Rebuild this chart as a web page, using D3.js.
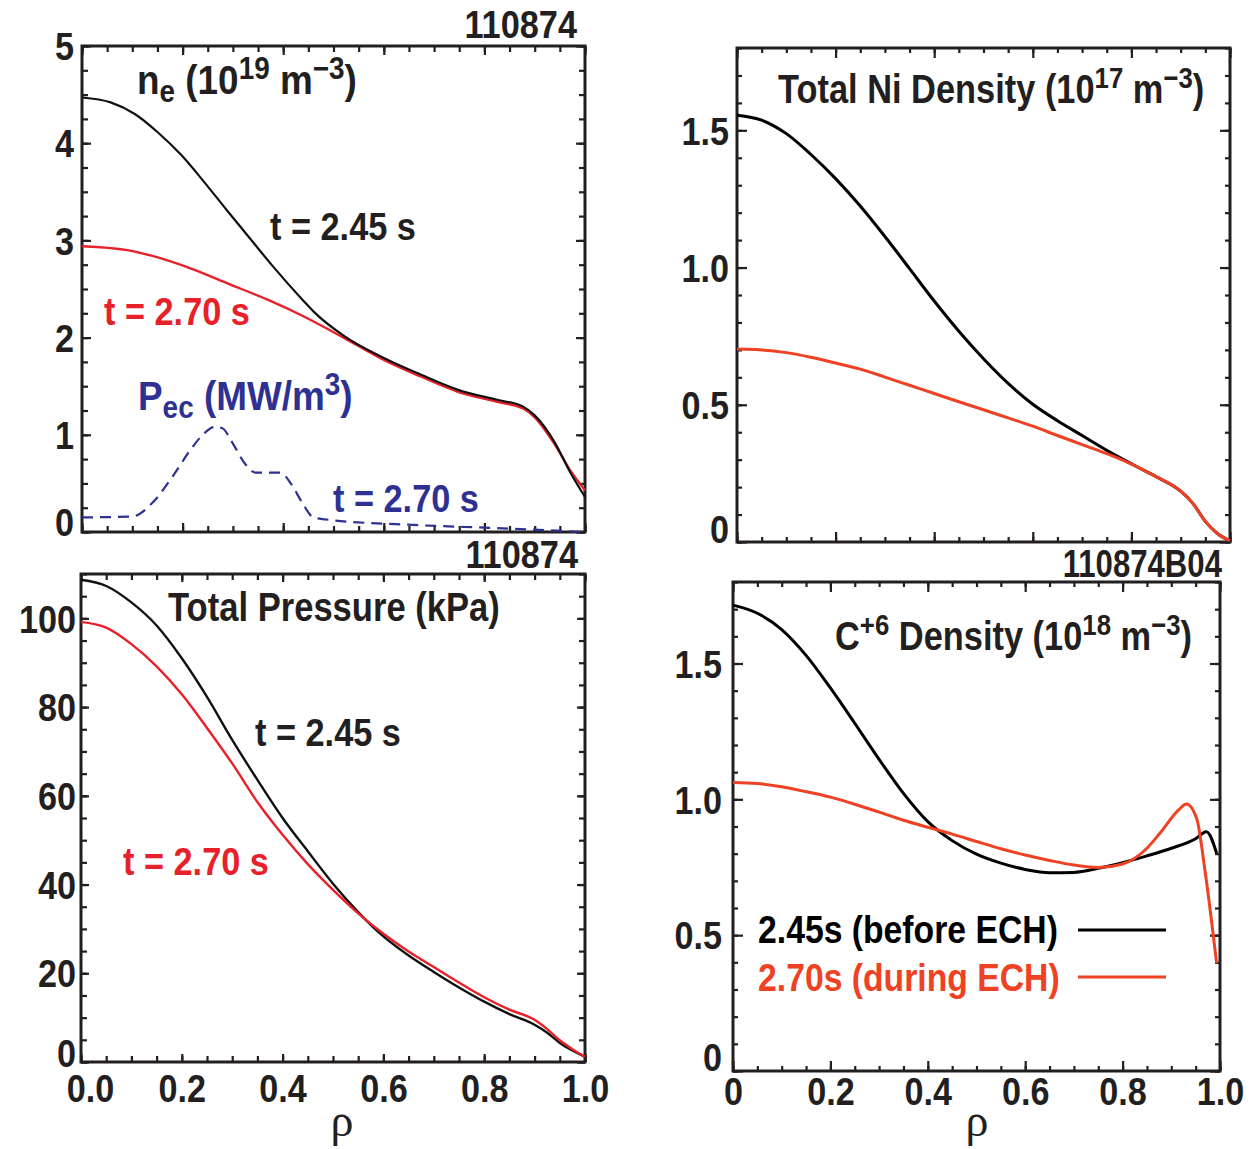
<!DOCTYPE html>
<html>
<head>
<meta charset="utf-8">
<script src="https://cdn.jsdelivr.net/npm/d3@7"></script>
<style>
  html, body { margin: 0; padding: 0; background: #fff; }
  svg { display: block; }
</style>
</head>
<body>
<svg id="chart" width="1253" height="1149"></svg>
<script>
// ---------------- DATA ----------------
// Electron density ne (10^19 m^-3)
const neRho245 = [0, 0.057, 0.105, 0.151, 0.197, 0.243, 0.288, 0.334, 0.38, 0.44, 0.46, 0.52, 0.6, 0.673, 0.749, 0.825, 0.877, 0.9, 0.94, 0.97, 1.0];
const ne245    = [4.47, 4.42, 4.30, 4.11, 3.88, 3.60, 3.31, 3.02, 2.73, 2.38, 2.27, 2.02, 1.79, 1.62, 1.46, 1.36, 1.29, 1.20, 0.92, 0.62, 0.36];
const neRho270 = [0, 0.09, 0.14, 0.217, 0.293, 0.369, 0.44, 0.52, 0.6, 0.673, 0.749, 0.825, 0.877, 0.9, 0.94, 0.97, 1.0];
const ne270    = [2.94, 2.90, 2.84, 2.71, 2.55, 2.39, 2.22, 2.00, 1.77, 1.60, 1.44, 1.34, 1.27, 1.18, 0.90, 0.64, 0.43];
// ECH power density Pec (MW/m^3) at t = 2.70 s
const pecRho = [0, 0.1, 0.14, 0.18, 0.215, 0.24, 0.263, 0.278, 0.30, 0.323, 0.346, 0.37, 0.395, 0.415, 0.438, 0.46, 0.483, 0.67, 0.825, 1.0];
const pec    = [0.15, 0.16, 0.30, 0.57, 0.84, 1.00, 1.08, 1.07, 0.91, 0.71, 0.61, 0.61, 0.61, 0.50, 0.30, 0.15, 0.13, 0.07, 0.04, 0.0];
// Total Ni density (10^17 m^-3)
const niRho245 = [0, 0.05, 0.1, 0.15, 0.2, 0.25, 0.3, 0.35, 0.4, 0.45, 0.5, 0.55, 0.6, 0.65, 0.7, 0.75, 0.8, 0.85, 0.9, 0.925, 0.95, 0.975, 1.0];
const ni245    = [1.555, 1.537, 1.488, 1.412, 1.324, 1.224, 1.113, 0.996, 0.878, 0.768, 0.668, 0.578, 0.502, 0.442, 0.388, 0.334, 0.285, 0.238, 0.185, 0.140, 0.075, 0.030, 0.005];
const niRho270 = [0, 0.05, 0.1, 0.15, 0.2, 0.25, 0.3, 0.35, 0.4, 0.45, 0.5, 0.55, 0.6, 0.65, 0.7, 0.75, 0.8, 0.85, 0.9, 0.925, 0.95, 0.975, 1.0];
const ni270    = [0.703, 0.700, 0.690, 0.673, 0.652, 0.630, 0.601, 0.571, 0.541, 0.511, 0.482, 0.452, 0.422, 0.388, 0.355, 0.322, 0.284, 0.238, 0.185, 0.140, 0.075, 0.030, 0.005];
// Total pressure (kPa)
const pRho245 = [0, 0.05, 0.1, 0.15, 0.2, 0.25, 0.3, 0.35, 0.4, 0.45, 0.5, 0.55, 0.6, 0.65, 0.7, 0.75, 0.8, 0.85, 0.9, 0.925, 0.95, 0.975, 1.0];
const p245    = [108.7, 107.3, 103.6, 98.4, 91.0, 82.3, 72.6, 63.6, 55.0, 47.5, 40.2, 33.8, 28.3, 24.0, 20.3, 16.8, 13.6, 10.8, 8.4, 6.6, 4.3, 2.6, 1.2];
const pRho270 = [0, 0.05, 0.1, 0.15, 0.2, 0.25, 0.3, 0.35, 0.4, 0.45, 0.5, 0.55, 0.6, 0.65, 0.7, 0.75, 0.8, 0.85, 0.9, 0.925, 0.95, 0.975, 1.0];
const p270    = [99.2, 97.9, 94.2, 89.2, 82.9, 75.3, 67.3, 58.6, 51.2, 44.6, 38.8, 33.5, 28.9, 24.9, 21.4, 17.9, 14.6, 11.8, 9.5, 7.4, 4.9, 2.9, 1.2];
// C+6 density (10^18 m^-3)
const cRho245 = [0, 0.05, 0.1, 0.15, 0.2, 0.25, 0.3, 0.35, 0.4, 0.45, 0.5, 0.55, 0.6, 0.65, 0.7, 0.75, 0.8, 0.85, 0.9, 0.95, 0.972, 0.993];
const c245    = [1.715, 1.685, 1.625, 1.530, 1.410, 1.280, 1.147, 1.022, 0.918, 0.848, 0.798, 0.765, 0.742, 0.730, 0.731, 0.746, 0.767, 0.792, 0.820, 0.855, 0.881, 0.802];
const cRho270 = [0, 0.05, 0.1, 0.15, 0.2, 0.25, 0.3, 0.35, 0.4, 0.45, 0.5, 0.55, 0.6, 0.65, 0.7, 0.75, 0.8, 0.85, 0.877, 0.915, 0.931, 0.952, 0.969, 0.993];
const c270    = [1.062, 1.058, 1.046, 1.028, 1.008, 0.982, 0.953, 0.923, 0.897, 0.872, 0.845, 0.818, 0.795, 0.775, 0.758, 0.749, 0.762, 0.820, 0.876, 0.961, 0.983, 0.930, 0.740, 0.397];

// Tick values / labels
const xTicks = [0, 0.2, 0.4, 0.6, 0.8, 1.0];
const xTickLabelsLeft  = ["0.0", "0.2", "0.4", "0.6", "0.8", "1.0"];
const xTickLabelsRight = ["0", "0.2", "0.4", "0.6", "0.8", "1.0"];
const neTicks = [0, 1, 2, 3, 4, 5];
const pTicks  = [0, 20, 40, 60, 80, 100];
const niTicks = [0, 0.5, 1.0, 1.5];
const niTickLabels = ["0", "0.5", "1.0", "1.5"];

// ---------------- LAYOUT ----------------
const BOLD = "'Liberation Sans', Arial, Helvetica, sans-serif";
const SERIF = "'Liberation Serif', 'DejaVu Serif', serif";
const INK = "#231f20";
const RED_L = "#e8202a";
const RED_R = "#ef4123";
const BLUE = "#2e3192";
const TICK_SX = 0.9;

const svg = d3.select("#chart");

function zip(xs, ys) { return xs.map((x, i) => ({ x, y: ys[i] })); }

function panel(cfg) {
  const g = svg.append("g");
  const x = d3.scaleLinear().domain([0, 1]).range([cfg.x0, cfg.x1]);
  const y = d3.scaleLinear().domain(cfg.yDomain).range([cfg.y1, cfg.y0]);

  const xMinor = d3.range(0, 1.0001, 0.05);
  const yMinor = d3.range(cfg.yDomain[0], cfg.yDomain[1] + 1e-9, cfg.yMinorStep);
  const addAxis = (axisFn, scale, vals, size, transform) => {
    const a = g.append("g").attr("transform", transform)
      .call(axisFn(scale).tickValues(vals).tickSize(size).tickFormat(""));
    a.select(".domain").remove();
    a.selectAll("line").attr("stroke", INK).attr("stroke-width", 2.2);
    return a;
  };
  addAxis(d3.axisBottom, x, xMinor, -cfg.minorLen, `translate(0,${cfg.y1})`);
  addAxis(d3.axisTop, x, xMinor, -cfg.minorLen, `translate(0,${cfg.y0})`);
  addAxis(d3.axisBottom, x, cfg.xMajor, -cfg.majorLen, `translate(0,${cfg.y1})`);
  addAxis(d3.axisTop, x, cfg.xMajor, -cfg.majorLen, `translate(0,${cfg.y0})`);
  addAxis(d3.axisLeft, y, yMinor, -cfg.minorLen, `translate(${cfg.x0},0)`);
  addAxis(d3.axisRight, y, yMinor, -cfg.minorLen, `translate(${cfg.x1},0)`);
  addAxis(d3.axisLeft, y, cfg.yTicks, -cfg.majorLen, `translate(${cfg.x0},0)`);
  addAxis(d3.axisRight, y, cfg.yTicks, -cfg.majorLen, `translate(${cfg.x1},0)`);

  g.append("rect").attr("x", cfg.x0).attr("y", cfg.y0)
    .attr("width", cfg.x1 - cfg.x0).attr("height", cfg.y1 - cfg.y0)
    .attr("fill", "none").attr("stroke", INK).attr("stroke-width", 3);

  const yl = g.append("g").attr("transform", `translate(${cfg.x0},0)`)
    .call(d3.axisLeft(y).tickValues(cfg.yTicks).tickSize(0)
      .tickFormat((d, i) => cfg.yTickLabels[i]));
  yl.select(".domain").remove();
  yl.selectAll("text").attr("font-family", BOLD).attr("font-weight", "bold")
    .attr("font-size", cfg.tickFont).attr("fill", INK)
    .attr("x", -cfg.yPad / TICK_SX)
    .attr("transform", `scale(${TICK_SX},1)`)
    .attr("dy", d => d === cfg.yDomain[0] ? cfg.zeroDy : "0.36em");

  if (cfg.xLabels) {
    const xl = g.append("g").attr("transform", `translate(0,${cfg.y1})`)
      .call(d3.axisBottom(x).tickValues(xTicks).tickSize(0)
        .tickFormat((d, i) => cfg.xLabels[i]));
    xl.select(".domain").remove();
    xl.selectAll("text").attr("font-family", BOLD).attr("font-weight", "bold")
      .attr("font-size", cfg.tickFont).attr("fill", INK)
      .attr("y", cfg.xPad).attr("dy", "0.71em")
      .attr("x", d => (d === 0 ? cfg.x0Dx : 0) / TICK_SX)
      .attr("transform", `scale(${TICK_SX},1)`);
  }
  return { x, y, g };
}

function drawLine(p, xs, ys, color, width, dash) {
  const line = d3.line().x(d => p.x(d.x)).y(d => p.y(d.y)).curve(d3.curveMonotoneX);
  p.g.append("path").datum(zip(xs, ys)).attr("d", line)
    .attr("fill", "none").attr("stroke", color).attr("stroke-width", width)
    .attr("stroke-linejoin", "round")
    .attr("stroke-dasharray", dash || null);
}

function text(x, y, size, color, anchor, parts, sx) {
  const t = svg.append("text")
    .attr("transform", `translate(${x},${y}) scale(${sx || 0.88},1)`)
    .attr("font-family", BOLD).attr("font-weight", "bold")
    .attr("font-size", size).attr("fill", color).attr("text-anchor", anchor || "start")
    .attr("xml:space", "preserve");
  parts.forEach(pt => {
    const s = t.append("tspan").text(pt.t);
    if (pt.dy) s.attr("dy", pt.dy);
    if (pt.size) s.attr("font-size", pt.size);
  });
  return t;
}

// ---------- Panel: ne ----------
const pNe = panel({ x0: 82, x1: 585, y0: 46, y1: 532, yDomain: [0, 5], yTicks: neTicks,
  yTickLabels: neTicks.map(String), yMinorStep: 0.25, xMajor: xTicks,
  minorLen: 6, majorLen: 9, tickFont: 38, yPad: 8, zeroDy: "0.1em" });
drawLine(pNe, pecRho, pec, BLUE, 2.2, "11,7");
drawLine(pNe, neRho270, ne270, RED_L, 2.4);
drawLine(pNe, neRho245, ne245, "#111", 2.2);

// ---------- Panel: Ni ----------
const pNi = panel({ x0: 737, x1: 1230, y0: 48, y1: 542, yDomain: [0, 1.8], yTicks: niTicks,
  yTickLabels: niTickLabels, yMinorStep: 0.1, xMajor: xTicks,
  minorLen: 5, majorLen: 10, tickFont: 38, yPad: 8, zeroDy: "0.02em" });
drawLine(pNi, niRho245, ni245, "#000", 3);
drawLine(pNi, niRho270, ni270, RED_R, 3);

// ---------- Panel: Pressure ----------
const pP = panel({ x0: 81, x1: 585, y0: 574, y1: 1062, yDomain: [0, 110], yTicks: pTicks,
  yTickLabels: pTicks.map(String), yMinorStep: 5, xMajor: xTicks,
  minorLen: 6, majorLen: 8, tickFont: 38, yPad: 5, zeroDy: "0.12em",
  xLabels: xTickLabelsLeft, xPad: 13, x0Dx: 9 });
drawLine(pP, pRho245, p245, "#111", 2.4);
drawLine(pP, pRho270, p270, RED_L, 2.4);

// ---------- Panel: C+6 ----------
const pC = panel({ x0: 733, x1: 1220, y0: 582, y1: 1071, yDomain: [0, 1.8], yTicks: niTicks,
  yTickLabels: niTickLabels, yMinorStep: 0.1, xMajor: xTicks,
  minorLen: 5, majorLen: 10, tickFont: 38, yPad: 11, zeroDy: "-0.02em",
  xLabels: xTickLabelsRight, xPad: 7, x0Dx: 0 });
drawLine(pC, cRho245, c245, "#000", 3);
drawLine(pC, cRho270, c270, RED_R, 3);

// ---------- Annotations ----------
text(577, 38, 39, INK, "end", [{ t: "110874" }], 0.88);
text(137, 94, 41, INK, "start", [
  { t: "n" }, { t: "e", size: 31, dy: 8 }, { t: " (10", dy: -8 }, { t: "19", size: 31, dy: -15 },
  { t: " m", dy: 15 }, { t: "\u22123", size: 31, dy: -15 }, { t: ")", dy: 15 }], 0.9);
text(270, 240, 39, INK, "start", [{ t: "t = 2.45 s" }], 0.88);
text(104, 325, 39, RED_L, "start", [{ t: "t = 2.70 s" }], 0.88);
text(138, 410, 41, BLUE, "start", [
  { t: "P" }, { t: "ec", size: 31, dy: 8 }, { t: " (MW/m", dy: -8 }, { t: "3", size: 31, dy: -15 }, { t: ")", dy: 15 }], 0.9);
text(333, 512, 39, BLUE, "start", [{ t: "t = 2.70 s" }], 0.88);

text(578, 568, 39, INK, "end", [{ t: "110874" }], 0.88);
text(168, 621, 40, INK, "start", [{ t: "Total Pressure (kPa)" }], 0.865);
text(255, 746, 39, INK, "start", [{ t: "t = 2.45 s" }], 0.88);
text(123, 875, 39, RED_L, "start", [{ t: "t = 2.70 s" }], 0.88);

text(778, 103, 40, INK, "start", [
  { t: "Total Ni Density (10" }, { t: "17", size: 30, dy: -15 }, { t: " m", dy: 15 },
  { t: "\u22123", size: 30, dy: -15 }, { t: ")", dy: 15 }], 0.86);

text(1222, 577, 38, INK, "end", [{ t: "110874B04" }], 0.82);
text(835, 650, 40, INK, "start", [
  { t: "C" }, { t: "+6", size: 30, dy: -15 }, { t: " Density (10", dy: 15 }, { t: "18", size: 30, dy: -15 },
  { t: " m", dy: 15 }, { t: "\u22123", size: 30, dy: -15 }, { t: ")", dy: 15 }], 0.86);

// legend
text(758, 943, 39, "#000", "start", [{ t: "2.45s (before ECH)" }], 0.865);
text(758, 991, 39, RED_R, "start", [{ t: "2.70s (during ECH)" }], 0.865);
svg.append("line").attr("x1", 1078).attr("x2", 1166).attr("y1", 930).attr("y2", 930)
  .attr("stroke", "#000").attr("stroke-width", 3);
svg.append("line").attr("x1", 1078).attr("x2", 1166).attr("y1", 977).attr("y2", 977)
  .attr("stroke", RED_R).attr("stroke-width", 3);

// rho axis labels
[342, 977].forEach(cx => {
  svg.append("text").attr("x", cx).attr("y", 1136).attr("text-anchor", "middle")
    .attr("font-family", SERIF).attr("font-size", 46).attr("fill", INK).text("\u03c1");
});
</script>
</body>
</html>
